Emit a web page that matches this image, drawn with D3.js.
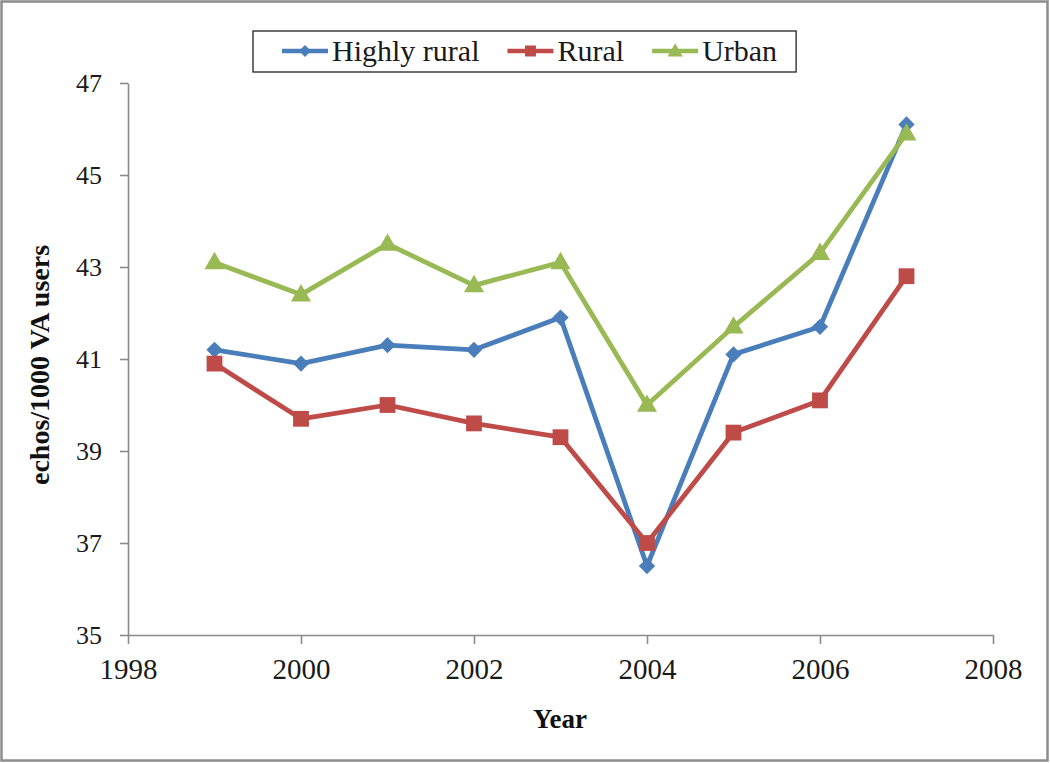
<!DOCTYPE html>
<html><head><meta charset="utf-8">
<script src="https://cdn.jsdelivr.net/npm/d3@7"></script>
<style>
html,body{margin:0;padding:0;background:#fff;}
svg{display:block;}
</style></head>
<body><svg id="c" width="1050" height="763"></svg>
<script>
const years = [1999, 2000, 2001, 2002, 2003, 2004, 2005, 2006, 2007];
const highlyRural = [41.2, 40.9, 41.3, 41.2, 41.9, 36.5, 41.1, 41.7, 46.1];
const rural = [40.9, 39.7, 40.0, 39.6, 39.3, 37.0, 39.4, 40.1, 42.8];
const urban = [43.1, 42.4, 43.5, 42.6, 43.1, 40.0, 41.7, 43.3, 45.9];
const seriesNames = ["Highly rural", "Rural", "Urban"];
const xTicks = [1998, 2000, 2002, 2004, 2006, 2008];
const yTicks = [35, 37, 39, 41, 43, 45, 47];

const colors = ["#4A7EBB", "#BE4B48", "#98B954"];
const shapes = [d3.symbolDiamond2, d3.symbolSquare, d3.symbolTriangle];
const symbolSizes = [170, 250, 175];
const seriesVals = [highlyRural, rural, urban];
const FONT = "'Liberation Serif', 'Times New Roman', serif";

const svg = d3.select("#c");
svg.append("rect").attr("x", 1.5).attr("y", 1.5).attr("width", 1046).attr("height", 759)
  .attr("fill", "#fff").attr("stroke", "#8c8c8c").attr("stroke-width", 2.5);

const x = d3.scaleLinear().domain([1998, 2008]).range([128, 993]);
const y = d3.scaleLinear().domain([35, 47]).range([635, 83]);
const axisColor = "#8a8a8a";

const gx = svg.append("g").attr("transform", "translate(0,635)")
  .call(d3.axisBottom(x).tickValues(xTicks).tickFormat(d3.format("d")).tickSize(9).tickSizeOuter(0).tickPadding(14));
const gy = svg.append("g").attr("transform", "translate(128,0)")
  .call(d3.axisLeft(y).tickValues(yTicks).tickSize(8).tickSizeOuter(0).tickPadding(18));
[gx, gy].forEach(g => {
  g.attr("font-family", FONT);
  g.select(".domain").attr("stroke", axisColor).attr("stroke-width", 1.6);
  g.selectAll(".tick line").attr("stroke", axisColor).attr("stroke-width", 1.6);
  g.selectAll("text").attr("fill", "#1a1a1a").attr("font-family", FONT);
});
gx.attr("font-size", 29);
gy.attr("font-size", 26);
gx.selectAll("text").attr("font-size", 29);
gy.selectAll("text").attr("font-size", 26).attr("dy", "0.34em");

const line = d3.line().x((d, i) => x(years[i])).y(d => y(d));
seriesVals.forEach((vals, s) => {
  svg.append("path").datum(vals).attr("d", line).attr("fill", "none")
    .attr("stroke", colors[s]).attr("stroke-width", 4.8).attr("stroke-linejoin", "round");
});
seriesVals.forEach((vals, s) => {
  svg.selectAll(null).data(vals).enter().append("path")
    .attr("d", d3.symbol(shapes[s], symbolSizes[s]))
    .attr("transform", (d, i) => `translate(${x(years[i])},${y(d) + (s === 2 ? 1 : 0)})`)
    .attr("fill", colors[s]);
});

// axis titles
svg.append("text").attr("x", 560).attr("y", 728).attr("text-anchor", "middle").attr("font-family", FONT)
  .attr("font-size", 27).attr("font-weight", "bold").attr("fill", "#111").text("Year");
svg.append("text").attr("transform", "translate(49,365) rotate(-90)").attr("text-anchor", "middle").attr("font-family", FONT)
  .attr("font-size", 28).attr("font-weight", "bold").attr("fill", "#111").text("echos/1000 VA users");

// legend
const lg = svg.append("g");
const box = lg.append("rect").attr("x", 253).attr("y", 31).attr("height", 41)
  .attr("fill", "#fff").attr("stroke", "#222").attr("stroke-width", 1.3);
let cx = 282;
const legendSym = [90, 120, 100];
seriesNames.forEach((name, s) => {
  lg.append("line").attr("x1", cx).attr("x2", cx + 46).attr("y1", 51).attr("y2", 51)
    .attr("stroke", colors[s]).attr("stroke-width", 4.5);
  lg.append("path").attr("d", d3.symbol(shapes[s], legendSym[s]))
    .attr("transform", `translate(${cx + 23},${51 + (s === 2 ? 1 : 0)})`).attr("fill", colors[s]);
  const t = lg.append("text").attr("x", cx + 50).attr("y", 61).attr("font-family", FONT).attr("font-size", 30)
    .attr("fill", "#1a1a1a").text(name);
  cx += 50 + t.node().getComputedTextLength() + 28;
});
box.attr("width", cx - 28 + 19 - 253);
</script></body></html>
